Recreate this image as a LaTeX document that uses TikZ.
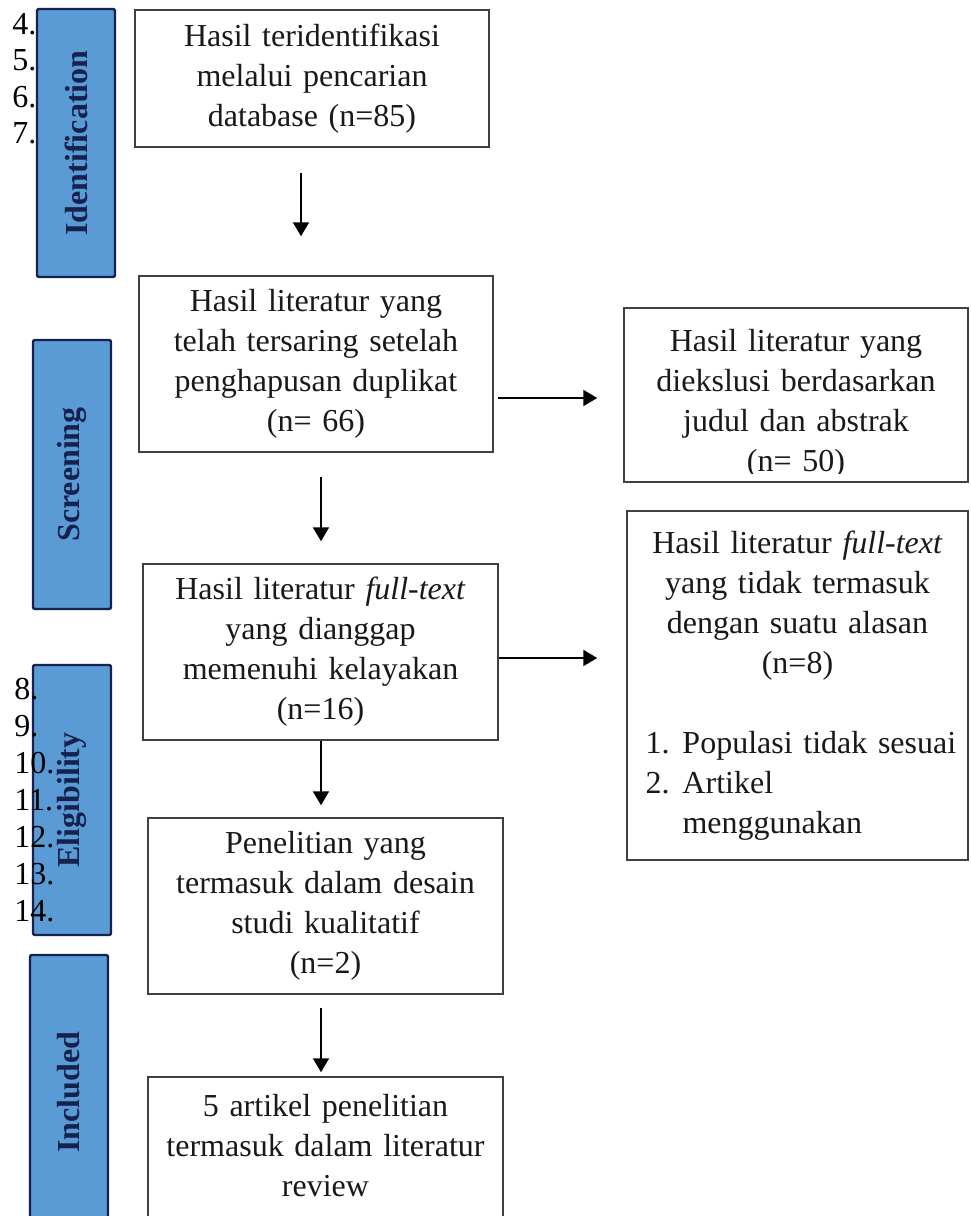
\documentclass[tikz,border=0pt]{standalone}
\usepackage{fontspec}
\setmainfont{Liberation Serif}
\usetikzlibrary{arrows.meta}
\definecolor{stageblue}{RGB}{91,155,213}
\definecolor{stagenavy}{RGB}{22,34,78}

\newcommand{\reasonitem}[2]{\makebox[152pt][l]{\makebox[18.5pt][l]{#1}#2}}

\begin{document}
\begin{tikzpicture}[x=0.5pt, y=-0.5pt,
    box/.style={draw=black!75, line width=0.75pt, fill=white, text=black!90, align=center, inner sep=0pt, font=\fontsize{16pt}{20pt}\selectfont},
    boxtext/.style={text=black!90, align=center, inner sep=0pt, font=\fontsize{16pt}{20pt}\selectfont},
    stage/.style={draw=stagenavy, fill=stageblue, line width=1.2pt, rounded corners=1pt, rotate=90, text=stagenavy, inner sep=0pt, font=\fontsize{16pt}{20pt}\selectfont\bfseries},
    listnum/.style={anchor=west, inner sep=0pt, font=\fontsize{16pt}{20pt}\selectfont},
    arrow/.style={-{Triangle[width=8pt,length=7pt]}, line width=1pt}]

        \useasboundingbox (0,0) rectangle (970,1216);
        \fill[white] (0,0) rectangle (970,1216);

        % Stage bars on the left
        \node[stage, minimum width=134pt, minimum height=39pt] (stageid) at (76,143) {Identification};
        \node[stage, minimum width=134.5pt, minimum height=39pt] (stagescr) at (72,474.5) {Screening};
        \node[stage, minimum width=135pt, minimum height=39pt] (stageelig) at (72,800) {Eligibility};
        \node[stage, minimum width=137pt, minimum height=39pt] (stageinc) at (69,1092) {Included};

        % Stray list numbers
        \foreach \n [count=\i from 0] in {4,...,7}
            \node[listnum] (num\n) at (12,{24+36.5*\i}) {\n.};
        \foreach \n [count=\i from 0] in {8,...,14}
            \node[listnum] (num\n) at (14,{689+37*\i}) {\n.};

        % Main column
        \node[box, text width=170pt, minimum width=177pt, minimum height=68.5pt] (found) at (312,78.5)
            {Hasil teridentifikasi\\ melalui pencarian\\ database (n=85)};
        \node[box, text width=170pt, minimum width=177pt, minimum height=88pt] (dedup) at (316,364)
            {Hasil literatur yang\\ telah tersaring setelah\\ penghapusan duplikat\\ (n= 66)};
        \node[box, text width=170pt, minimum width=177.5pt, minimum height=88pt] (fulltext) at (320.5,652)
            {Hasil literatur \textit{full-text}\\ yang dianggap\\ memenuhi kelayakan\\ (n=16)};
        \node[box, text width=170pt, minimum width=177.5pt, minimum height=88pt] (qual) at (325.5,906)
            {Penelitian yang\\ termasuk dalam desain\\ studi kualitatif\\ (n=2)};
        \node[box, text width=170pt, minimum width=177.5pt, minimum height=88pt] (incl) at (325.5,1165)
            {5 artikel penelitian\\ termasuk dalam literatur\\ review\\ \mbox{}};

        % Right column
        \node[box, text width=165pt, minimum width=172pt, minimum height=87pt] (excl) at (796,395) {};
        \begin{scope}
            \clip (624,308) rectangle (968,473);
            \node[boxtext, text width=165pt] (excltext) at (796,404)
                {Hasil literatur yang\\ diekslusi berdasarkan\\ judul dan abstrak\\ (n= 50)};
        \end{scope}
        \node[box, text width=165pt, minimum width=170.5pt, minimum height=174.5pt] (reason) at (797.5,685.5)
            {Hasil literatur \textit{full-text}\\ yang tidak termasuk\\ dengan suatu alasan\\ (n=8)\\ \mbox{}\\
             \reasonitem{1.}{Populasi tidak sesuai}\\ \reasonitem{2.}{Artikel}\\ \reasonitem{}{menggunakan}};

        % Arrows
        \draw[arrow, shorten <=12.5pt, shorten >=19.5pt] (found.south -| 301,0) -- (dedup.north -| 301,0);
        \draw[arrow, shorten <=12pt, shorten >=11pt] (dedup.south -| 321,0) -- (fulltext.north -| 321,0);
        \draw[arrow, shorten >=6pt] (fulltext.south -| 321,0) -- (qual.north -| 321,0);
        \draw[arrow, shorten <=6.5pt, shorten >=2pt] (qual.south -| 321,0) -- (incl.north -| 321,0);
        \draw[arrow, shorten <=2pt, shorten >=13pt] (dedup.east |- 0,398) -- (excl.west |- 0,398);
        \draw[arrow, shorten >=14.5pt] (fulltext.east |- 0,658) -- (reason.west |- 0,658);
    \end{tikzpicture}
\end{document}
